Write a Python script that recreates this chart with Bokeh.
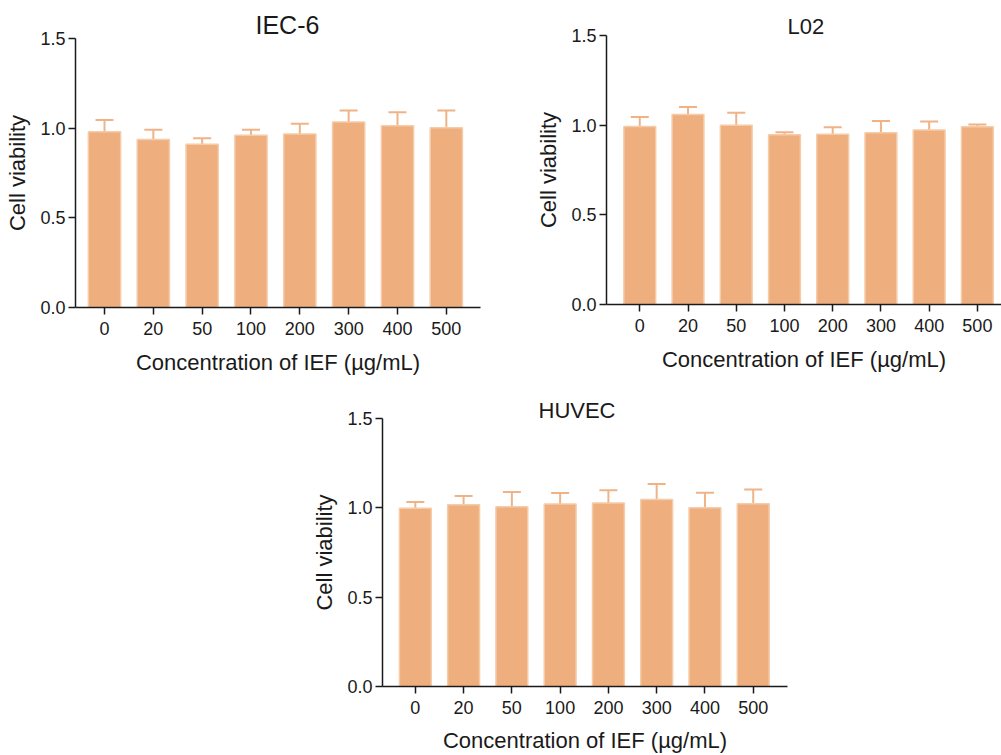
from bokeh.plotting import figure
from bokeh.layouts import column, row
from bokeh.models import (Range1d, FixedTicker, NumeralTickFormatter, Whisker,
                          TeeHead, ColumnDataSource)
from bokeh.embed import file_html
from bokeh.resources import INLINE

categories = ["0", "20", "50", "100", "200", "300", "400", "500"]

iec6_mean = [0.980, 0.937, 0.911, 0.961, 0.967, 1.035, 1.013, 1.002]
iec6_sd = [0.065, 0.054, 0.033, 0.030, 0.057, 0.064, 0.076, 0.097]

l02_mean = [0.993, 1.060, 1.000, 0.947, 0.949, 0.958, 0.973, 0.991]
l02_sd = [0.052, 0.041, 0.069, 0.013, 0.039, 0.065, 0.048, 0.013]

huvec_mean = [0.997, 1.017, 1.006, 1.021, 1.027, 1.047, 1.001, 1.023]
huvec_sd = [0.035, 0.049, 0.082, 0.062, 0.072, 0.086, 0.083, 0.080]

y_ticks = [0.0, 0.5, 1.0, 1.5]

FONT = "Liberation Sans"
BAR = "#EEAE7E"
EDGE = "#F6CBA8"
ERR = "#F0B387"
INK = "#1a1a1a"


def make_panel(title, means, sds, width, height, mb_left, mb_right, mb_top,
               mb_bottom, x0, x1, title_size, title_offset, title_standoff,
               xlab_standoff):
    p = figure(width=width, height=height, output_backend="svg",
               toolbar_location=None, x_range=Range1d(x0, x1),
               y_range=Range1d(0, 1.5), min_border_left=mb_left,
               min_border_right=mb_right, min_border_top=mb_top,
               min_border_bottom=mb_bottom)
    p.outline_line_color = None
    p.xgrid.visible = False
    p.ygrid.visible = False
    p.background_fill_color = "white"
    p.border_fill_color = "white"

    p.title.text = title
    p.title.align = "left"
    p.title.text_font = FONT
    p.title.text_font_size = f"{title_size}px"
    p.title.text_font_style = "normal"
    p.title.text_color = INK
    p.title.offset = title_offset
    p.title.standoff = title_standoff

    xs = list(range(len(categories)))
    upper = [m + s for m, s in zip(means, sds)]
    src = ColumnDataSource(dict(x=xs, top=means, upper=upper))
    p.vbar(x="x", top="top", width=0.66, source=src, fill_color=BAR,
           line_color=EDGE, line_width=1.5)
    w = Whisker(base="x", lower="top", upper="upper", source=src,
                line_color=ERR, line_width=2,
                upper_head=TeeHead(size=18, line_color=ERR, line_width=2),
                lower_head=None)
    p.add_layout(w)

    p.xaxis.ticker = FixedTicker(ticks=xs)
    p.xaxis.major_label_overrides = {i: c for i, c in enumerate(categories)}
    p.yaxis.ticker = FixedTicker(ticks=y_ticks)
    p.yaxis.formatter = NumeralTickFormatter(format="0.0")
    for ax in (p.xaxis[0], p.yaxis[0]):
        ax.axis_line_color = INK
        ax.axis_line_width = 1.5
        ax.major_tick_line_color = INK
        ax.major_tick_line_width = 1.5
        ax.major_tick_in = 0
        ax.major_tick_out = 7
        ax.minor_tick_line_color = None
        ax.major_label_text_font = FONT
        ax.major_label_text_font_size = "18px"
        ax.major_label_text_color = INK
        ax.axis_label_text_font = FONT
        ax.axis_label_text_font_size = "22px"
        ax.axis_label_text_font_style = "normal"
        ax.axis_label_text_color = INK
    p.xaxis.axis_label = "Concentration of IEF (µg/mL)"
    p.yaxis.axis_label = "Cell viability"
    p.xaxis.major_label_standoff = 7
    p.xaxis.axis_label_standoff = xlab_standoff
    p.yaxis.major_label_standoff = 3
    p.yaxis.axis_label_standoff = 7
    return p


p1 = make_panel("IEC-6", iec6_mean, iec6_sd, 500, 380, 75, 20, 38, 73,
                -0.594, 7.70, 25, 180, -1, 12)
p2 = make_panel("L02", l02_mean, l02_sd, 501, 380, 106, 0, 35, 76,
                -0.69, 7.50, 22, 181, -6, 12)
p3 = make_panel("HUVEC", huvec_mean, huvec_sd, 800, 375, 382, 13, 38, 68,
                -0.68, 7.71, 22, 156, -9, 11)

layout = column(row(column(p1), column(p2)), p3)
open("out.html", "w").write(file_html(layout, INLINE))
